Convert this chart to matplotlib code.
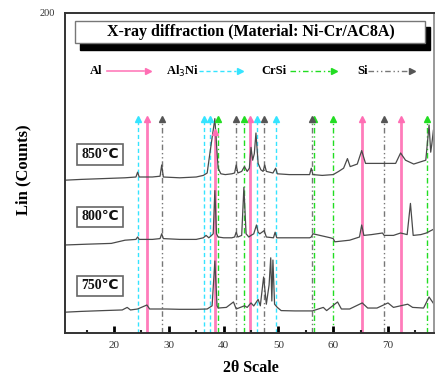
import matplotlib
matplotlib.use("Agg")
import matplotlib.pyplot as plt
from matplotlib.patches import Rectangle

# ---------------- data ----------------
# 850 C trace (2theta, counts)
T850 = [11.0, 14.0, 18.0, 22.0, 24.0, 24.3, 24.6, 27.0, 28.4, 28.7,
        29.0, 32.0, 35.0, 36.3, 37.0, 37.4, 37.9, 38.4, 38.7, 39.0,
        39.5, 40.3, 41.5, 42.0, 42.3, 42.6, 43.3, 43.8, 44.3, 44.7,
        45.0, 45.3, 45.6, 45.9, 46.3, 46.8, 47.2, 47.5, 47.8, 49.0,
        49.5, 49.8, 52.0, 55.7, 56.0, 56.3, 58.0, 60.0, 61.0, 61.9,
        62.6, 63.1, 64.4, 65.2, 65.9, 67.5, 69.2, 71.4, 72.3, 73.2,
        74.7, 76.9, 77.5, 77.8, 78.0, 78.3, 78.4]
C850 = [95.5, 96.0, 96.5, 97.0, 97.5, 100.5, 97.5, 97.5, 98.0, 105.0,
        97.5, 97.0, 97.5, 98.5, 100.0, 110.0, 122.0, 134.0, 118.0, 103.0,
        99.5, 99.0, 99.5, 100.0, 105.0, 100.0, 101.0, 104.0, 101.0, 103.0,
        116.0, 108.0, 112.0, 125.0, 106.0, 102.0, 101.0, 105.0, 101.0, 100.0,
        103.0, 99.5, 99.0, 99.0, 103.0, 99.0, 98.5, 99.0, 101.0, 103.0,
        109.0, 104.0, 105.6, 114.0, 106.0, 106.0, 106.0, 106.0, 112.5, 108.0,
        105.6, 108.0, 130.0, 113.0, 118.0, 127.0, 120.0]

# 800 C trace
T800 = [11.0, 15.0, 19.5, 22.0, 24.0, 24.3, 24.6, 27.0, 28.4, 28.7,
        29.0, 32.0, 35.0, 36.3, 36.8, 37.3, 37.8, 38.1, 38.4, 38.7,
        39.0, 40.0, 41.5, 42.0, 42.3, 42.6, 43.3, 43.7, 44.1, 44.6,
        45.0, 45.5, 46.0, 46.3, 46.6, 47.0, 47.4, 47.8, 49.1, 49.4,
        49.7, 52.0, 55.7, 56.0, 56.3, 59.5, 60.0, 60.3, 63.0, 64.8,
        65.2, 65.6, 67.0, 69.0, 69.3, 71.0, 72.3, 73.5, 74.1, 74.6,
        76.0, 77.0, 78.4]
C800 = [55.0, 55.5, 56.0, 58.0, 58.5, 60.0, 58.5, 58.5, 59.0, 62.0,
        59.0, 58.5, 58.5, 59.5, 61.0, 59.5, 61.0, 62.0, 89.0, 62.0,
        60.0, 59.5, 59.5, 60.0, 63.0, 60.0, 61.0, 91.0, 62.0, 60.0,
        61.0, 62.0, 67.5, 63.0, 62.0, 63.0, 64.0, 60.0, 59.5, 63.0,
        59.5, 59.5, 59.5, 60.0, 62.0, 59.5, 59.0, 57.0, 58.0, 60.0,
        67.5, 61.0, 61.5, 62.5, 61.0, 61.0, 62.5, 61.5, 81.0, 61.0,
        61.5, 62.5, 65.0]

# 750 C trace
T750 = [11.0, 14.0, 18.0, 21.5, 22.4, 23.0, 24.3, 26.0, 26.5, 28.0,
        29.5, 32.0, 35.0, 37.0, 37.9, 38.4, 38.8, 39.0, 40.5, 41.8,
        42.3, 43.8, 44.3, 45.0, 45.5, 46.3, 46.7, 47.3, 47.8, 48.3,
        48.6, 48.8, 49.0, 49.3, 49.8, 50.5, 53.0, 56.2, 58.2, 58.8,
        60.8, 61.5, 63.0, 65.3, 66.3, 68.0, 70.0, 71.0, 73.6, 74.5,
        76.5, 77.5, 78.4]
C750 = [13.0, 13.5, 14.0, 14.4, 16.0, 14.4, 15.0, 17.5, 15.0, 15.0,
        15.0, 14.8, 14.8, 15.0, 17.0, 45.0, 17.0, 15.6, 16.0, 19.4,
        15.0, 17.0, 16.0, 18.8, 16.9, 21.0, 17.0, 35.0, 18.0, 30.0,
        47.0, 20.0, 45.6, 18.0, 16.0, 14.0, 13.8, 13.8, 16.0, 14.0,
        19.4, 15.0, 15.0, 18.8, 15.6, 15.6, 18.8, 16.0, 18.0, 16.0,
        15.6, 22.5, 18.0]

TRACES = [(T850, C850, "850℃"), (T800, C800, "800℃"), (T750, C750, "750℃")]
LABEL_Y = [0.559, 0.3625, 0.147]

# reference line positions (2theta)
AL_POS = [26.0, 38.45, 44.9, 65.2, 72.4]
AL3NI_POS = [24.4, 36.5, 37.55, 46.1, 49.55]
CRSI_POS = [38.95, 43.8, 56.5, 60.0, 77.2]
SI_POS = [28.7, 42.3, 47.4, 56.1, 69.2]

PHASES = ["Al", "Al$_3$Ni", "CrSi", "Si"]

XTICKS = [20, 30, 40, 50, 60, 70]
XMINOR = [15, 25, 35, 45, 55, 65, 75]

# ---------------- style ----------------
SERIF = ["Liberation Serif", "DejaVu Sans"]
PINK = "#ff6eb4"
CYAN = "#35e4ff"
GREEN = "#22dd22"
GRAY = "#555555"

fig = plt.figure(figsize=(4.36, 3.85), dpi=100)
ax = fig.add_axes([65 / 436, 1 - 333 / 385, (434 - 65) / 436, (333 - 13) / 385])
ax.set_xlim(11.05, 78.4)
ax.set_ylim(0, 200)

# reference lines with arrowheads
styles = [
    (AL_POS, dict(color=PINK, lw=2.0, ls="-", alpha=0.9)),
    (AL3NI_POS, dict(color=CYAN, lw=1.0, ls=(0, (3, 2)))),
    (CRSI_POS, dict(color=GREEN, lw=1.0, ls=(0, (4, 2, 1, 2)))),
    (SI_POS, dict(color=GRAY, lw=1.0, ls=(0, (4, 2, 1, 2, 1, 2)), alpha=0.8)),
]
for pos, st in styles:
    for p in pos:
        top = 124 if (st["color"] == PINK and abs(p - 38.45) < 0.1) else 132
        ax.plot([p, p], [0, top], zorder=1, **st)
        ax.plot([p], [top + 1.5], marker="^", ms=5, color=st["color"],
                mec=st["color"], zorder=3, ls="none")

# traces
for t, c, lab in TRACES:
    ax.plot(t, c, color="#4a4a4a", lw=0.9, zorder=2)

# temperature labels
for (t, c, lab), yy in zip(TRACES, LABEL_Y):
    ax.text(0.095, yy, lab, transform=ax.transAxes, ha="center", va="center",
            fontsize=10, fontweight="bold", family=SERIF, color="#111111",
            bbox=dict(boxstyle="square,pad=0.28", fc="white", ec="#666666", lw=1.2),
            zorder=5)

# title box with shadow
ax.add_patch(Rectangle(((80 - 65) / 369, (333 - 50) / 320),
                       (430 - 80) / 369, (50 - 27) / 320,
                       transform=ax.transAxes, fc="black", ec="black", zorder=4))
ax.add_patch(Rectangle(((75 - 65) / 369, (333 - 43) / 320),
                       (425 - 75) / 369, (43 - 21) / 320,
                       transform=ax.transAxes, fc="white", ec="#777777", lw=1.0, zorder=5))
ax.text(0.505, (333 - 32) / 320, "X-ray diffraction (Material: Ni-Cr/AC8A)",
        transform=ax.transAxes, ha="center", va="center", fontsize=11.5,
        fontweight="bold", family=SERIF, zorder=6)

# phase legend
leg_text_x = [0.068, 0.274, 0.531, 0.791]
leg_arrow = [(0.114, 0.225), (0.363, 0.474), (0.610, 0.729), (0.821, 0.940)]
leg_y = (333 - 71) / 320
for name, tx, (a0, a1), (pos, st) in zip(PHASES, leg_text_x, leg_arrow, styles):
    ax.text(tx, leg_y, name, transform=ax.transAxes, ha="left", va="center",
            fontsize=9, fontweight="bold", family=SERIF)
    s = dict(st)
    s["lw"] = 1.0 if s["color"] != PINK else 1.2
    ax.plot([a0, a1 - 0.01], [leg_y, leg_y], transform=ax.transAxes, **s)
    ax.plot([a1], [leg_y], transform=ax.transAxes, marker=">", ms=4.5,
            color=st["color"], ls="none")

# axes styling
for sp in ax.spines.values():
    sp.set_color("#333333")
    sp.set_linewidth(1.4)
ax.spines["right"].set_color("#999999")
ax.set_xticks(XTICKS)
ax.set_xticks(XMINOR, minor=True)
ax.set_xticklabels([str(v) for v in XTICKS], family=SERIF, fontsize=8, color="#333333")
ax.tick_params(axis="x", which="major", direction="in", length=5, width=2, color="black", pad=6)
ax.tick_params(axis="x", which="minor", direction="in", length=2.5, width=1.5, color="#222222")
ax.set_yticks([200])
ax.set_yticklabels(["200"], family=SERIF, fontsize=7.5, color="#333333")
ax.tick_params(axis="y", which="major", length=0, pad=7)

fig.text(251 / 436, 1 - 368 / 385, "2θ Scale", ha="center", va="center",
         fontsize=11.5, fontweight="bold", family=SERIF)
fig.text(23 / 436, 1 - 170 / 385, "Lin (Counts)", ha="center", va="center",
         rotation=90, fontsize=12, fontweight="bold", family=SERIF)

fig.savefig("out.png", dpi=100)
